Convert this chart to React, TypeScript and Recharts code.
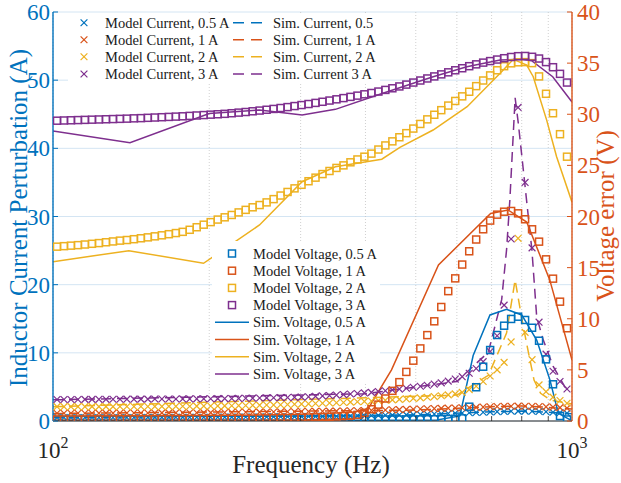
import React from 'react';
import { ComposedChart, XAxis, YAxis, CartesianGrid, Line, Scatter } from 'recharts';

const BLUE = '#0072BD';
const ORANGE = '#D95319';
const YELLOW = '#EDB120';
const PURPLE = '#7E2F8E';
const INK = '#262626';
const FONT = "'Liberation Serif', 'Times New Roman', serif";

// frequency grid of the model markers (Hz)
const FREQ = [101.8, 105.0, 108.3, 111.7, 115.2, 118.9, 122.6, 126.5, 130.5, 134.6,
  138.8, 143.2, 147.7, 152.3, 157.1, 162.1, 167.2, 172.5, 177.8, 183.4,
  189.2, 195.2, 201.3, 207.7, 214.2, 221.0, 227.9, 235.1, 242.5, 250.1,
  258.0, 266.1, 274.5, 283.1, 292.0, 301.2, 310.7, 320.5, 330.6, 341.0,
  351.7, 362.8, 374.2, 386.0, 398.1, 410.7, 423.6, 436.9, 450.7, 464.9,
  479.5, 494.6, 510.2, 526.3, 542.8, 559.9, 577.5, 595.7, 614.4, 633.8,
  653.7, 674.3, 695.5, 717.4, 740.0, 763.3, 787.3, 812.1, 837.6, 864.0,
  891.2, 919.2, 948.2, 978.1];

// Model current (A, left axis)
const MODEL_C_05 = [0.5, 0.5, 0.5, 0.5, 0.5, 0.51, 0.51, 0.51, 0.51, 0.52,
  0.52, 0.52, 0.52, 0.53, 0.53, 0.53, 0.53, 0.54, 0.54, 0.54,
  0.55, 0.55, 0.55, 0.56, 0.56, 0.57, 0.57, 0.58, 0.58, 0.59,
  0.6, 0.61, 0.62, 0.63, 0.64, 0.65, 0.66, 0.67, 0.68, 0.69,
  0.7, 0.72, 0.74, 0.76, 0.78, 0.8, 0.82, 0.84, 0.86, 0.88,
  0.9, 0.93, 0.96, 0.99, 1.02, 1.05, 1.09, 1.13, 1.17, 1.21,
  1.25, 1.29, 1.33, 1.37, 1.4, 1.43, 1.45, 1.45, 1.43, 1.4,
  1.35, 1.29, 1.22, 1.14];
const MODEL_C_1 = [1.13, 1.13, 1.13, 1.14, 1.14, 1.14, 1.15, 1.15, 1.15, 1.16,
  1.16, 1.17, 1.17, 1.18, 1.18, 1.19, 1.19, 1.2, 1.2, 1.21,
  1.21, 1.22, 1.23, 1.24, 1.25, 1.26, 1.27, 1.28, 1.29, 1.3,
  1.31, 1.32, 1.34, 1.35, 1.36, 1.38, 1.39, 1.41, 1.42, 1.44,
  1.45, 1.47, 1.49, 1.51, 1.53, 1.55, 1.58, 1.61, 1.64, 1.67,
  1.7, 1.73, 1.76, 1.79, 1.82, 1.85, 1.88, 1.91, 1.94, 1.97,
  2.0, 2.04, 2.08, 2.12, 2.15, 2.17, 2.18, 2.17, 2.15, 2.12,
  2.08, 2.03, 1.96, 1.88];
const MODEL_C_2 = [2.1, 2.1, 2.1, 2.1, 2.1, 2.11, 2.11, 2.11, 2.11, 2.12,
  2.12, 2.12, 2.13, 2.13, 2.14, 2.14, 2.15, 2.15, 2.16, 2.17,
  2.18, 2.19, 2.2, 2.21, 2.22, 2.24, 2.26, 2.28, 2.3, 2.32,
  2.34, 2.36, 2.39, 2.42, 2.45, 2.48, 2.52, 2.56, 2.6, 2.64,
  2.68, 2.72, 2.77, 2.82, 2.87, 2.92, 2.98, 3.04, 3.1, 3.17,
  3.24, 3.31, 3.39, 3.48, 3.58, 3.7, 3.83, 3.98, 4.2, 4.6,
  5.1, 5.8, 6.6, 7.5, 8.6, 11.6, 26.8, 13.0, 9.0, 5.3,
  4.3, 3.5, 3.0, 2.6];
const MODEL_C_3 = [3.15, 3.15, 3.16, 3.16, 3.17, 3.17, 3.18, 3.18, 3.19, 3.19,
  3.2, 3.2, 3.21, 3.21, 3.22, 3.22, 3.23, 3.23, 3.24, 3.24,
  3.25, 3.26, 3.27, 3.28, 3.29, 3.3, 3.31, 3.33, 3.35, 3.37,
  3.39, 3.41, 3.43, 3.45, 3.47, 3.5, 3.56, 3.62, 3.68, 3.74,
  3.8, 3.88, 3.96, 4.04, 4.12, 4.2, 4.32, 4.44, 4.56, 4.68,
  4.8, 4.95, 5.1, 5.25, 5.42, 5.6, 5.85, 6.15, 6.5, 7.0,
  7.7, 8.7, 10.2, 12.5, 17.0, 26.7, 46.0, 35.0, 25.4, 14.5,
  9.8, 7.3, 5.8, 4.7];

// Model voltage (V, right axis)
const MODEL_V_05 = [0.12, 0.12, 0.12, 0.12, 0.12, 0.12, 0.12, 0.12, 0.12, 0.12,
  0.12, 0.12, 0.12, 0.12, 0.12, 0.12, 0.12, 0.12, 0.12, 0.12,
  0.12, 0.12, 0.12, 0.12, 0.12, 0.12, 0.12, 0.12, 0.12, 0.12,
  0.13, 0.13, 0.13, 0.13, 0.13, 0.13, 0.13, 0.13, 0.13, 0.13,
  0.14, 0.14, 0.14, 0.14, 0.14, 0.15, 0.15, 0.15, 0.15, 0.15,
  0.16, 0.16, 0.16, 0.17, 0.17, 0.18, 0.19, 0.21, 0.26, 1.4,
  3.3, 5.31, 6.94, 8.41, 9.32, 9.98, 10.2, 9.88, 9.12, 7.85,
  6.03, 3.59, 0.49, 0.15];
const MODEL_V_1 = [0.15, 0.15, 0.15, 0.15, 0.15, 0.16, 0.16, 0.16, 0.16, 0.17,
  0.17, 0.17, 0.17, 0.18, 0.18, 0.18, 0.19, 0.19, 0.19, 0.2,
  0.2, 0.2, 0.21, 0.21, 0.22, 0.22, 0.23, 0.23, 0.24, 0.25,
  0.26, 0.27, 0.28, 0.29, 0.3, 0.32, 0.34, 0.36, 0.38, 0.41,
  0.44, 0.48, 0.52, 0.6, 0.8, 1.15, 1.6, 2.2, 2.95, 3.8,
  4.8, 5.9, 7.1, 8.4, 9.75, 11.15, 12.7, 13.95, 15.3, 16.6,
  17.75, 18.75, 19.6, 20.18, 20.47, 20.54, 20.31, 19.73, 18.75, 17.54,
  15.81, 13.92, 11.67, 9.07];
const MODEL_V_2 = [17.05, 17.1, 17.15, 17.2, 17.26, 17.33, 17.4, 17.48, 17.56, 17.64,
  17.7, 17.78, 17.87, 17.96, 18.06, 18.16, 18.27, 18.38, 18.5, 18.7,
  18.95, 19.2, 19.45, 19.7, 19.92, 20.15, 20.4, 20.65, 20.9, 21.12,
  21.38, 21.7, 22.05, 22.4, 22.75, 23.1, 23.45, 23.8, 24.15, 24.45,
  24.75, 25.0, 25.3, 25.58, 25.85, 26.15, 26.55, 26.95, 27.35, 27.75,
  28.15, 28.6, 29.05, 29.5, 29.95, 30.4, 30.85, 31.3, 31.75, 32.2,
  32.75, 33.3, 33.8, 34.3, 34.7, 34.98, 35.08, 35.1, 35.0, 33.7,
  32.0, 30.1, 28.05, 25.85];
const MODEL_V_3 = [29.37, 29.39, 29.41, 29.43, 29.45, 29.47, 29.49, 29.51, 29.53, 29.55,
  29.57, 29.6, 29.62, 29.65, 29.68, 29.71, 29.74, 29.77, 29.8, 29.84,
  29.88, 29.92, 29.96, 30.0, 30.04, 30.1, 30.16, 30.22, 30.29, 30.36,
  30.44, 30.52, 30.61, 30.7, 30.8, 30.9, 31.0, 31.11, 31.22, 31.34,
  31.46, 31.58, 31.7, 31.82, 31.95, 32.08, 32.22, 32.38, 32.54, 32.72,
  32.9, 33.1, 33.3, 33.5, 33.7, 33.9, 34.1, 34.3, 34.5, 34.7,
  34.88, 35.05, 35.2, 35.35, 35.48, 35.6, 35.68, 35.7, 35.62, 35.45,
  35.1, 34.6, 33.95, 33.1];

// Simulated current (A, left axis): [frequency, value]
const SIM_C_05 = [[100, 0.5], [500, 0.9], [700, 1.35], [800, 1.45], [900, 1.3], [1000, 1.05]];
const SIM_C_1 = [[100, 1.1], [500, 1.6], [700, 2.1], [800, 2.2], [900, 2.0], [1000, 1.75]];
const SIM_C_2 = [[100, 2.1], [600, 3.8], [690, 6.7], [748, 12.9], [777, 20.7], [800, 15.1],
  [820, 10.9], [845, 6.0], [870, 4.06], [908, 3.08], [1000, 2.5]];
const SIM_C_3 = [[100, 3.1], [400, 4.0], [600, 5.8], [690, 10.1], [732, 17.8], [748, 25.1],
  [759, 32.4], [777, 47.4], [788, 43.7], [837, 25.1], [855, 15.3], [880, 11.9],
  [920, 8.0], [969, 5.0], [1000, 4.3]];

// Simulated voltage (V, right axis): [frequency, value]
const SIM_V_05 = [[100, 0.02], [549, 0.1], [608, 0.5], [645, 6.4], [695, 10.37], [748, 10.92],
  [800, 10.37], [855, 7.92], [907, 4.0], [941, 0.75], [1000, 0.02]];
const SIM_V_1 = [[100, 0.1], [300, 0.1], [395, 0.3], [449, 5.0], [553, 15.26], [697, 20.3],
  [753, 20.64], [818, 19.46], [906, 13.8], [1000, 5.97]];
const SIM_V_2 = [[100, 15.58], [140, 16.66], [195, 15.42], [250, 19.17], [302, 23.4], [350, 24.87],
  [430, 25.6], [466, 26.77], [540, 28.46], [628, 30.74], [727, 34.0], [771, 35.37],
  [818, 34.8], [842, 33.67], [894, 29.4], [934, 25.85], [1000, 21.4]];
const SIM_V_3 = [[100, 28.36], [140.7, 27.22], [200, 30.07], [250, 30.42], [302, 29.93], [350, 30.48],
  [432, 32.05], [540, 33.67], [627, 34.65], [727, 35.31], [794, 35.37], [836, 35.24],
  [918, 33.67], [1000, 31.2]];

const X_TICKS = [100, 200, 300, 400, 500, 600, 700, 800, 900, 1000];
const LEFT_TICKS = [0, 10, 20, 30, 40, 50, 60];
const RIGHT_TICKS = [0, 5, 10, 15, 20, 25, 30, 35, 40];

const LEGEND_CURRENT_MODEL = ['Model Current, 0.5 A', 'Model Current, 1 A', 'Model Current, 2 A', 'Model Current, 3 A'];
const LEGEND_CURRENT_SIM = ['Sim. Current, 0.5', 'Sim. Current, 1 A', 'Sim. Current, 2 A', 'Sim. Current  3 A'];
const LEGEND_VOLTAGE_MODEL = ['Model Voltage, 0.5 A', 'Model Voltage, 1 A', 'Model Voltage, 2 A', 'Model Voltage, 3 A'];
const LEGEND_VOLTAGE_SIM = ['Sim. Voltage, 0.5 A', 'Sim. Voltage, 1 A', 'Sim. Voltage, 2 A', 'Sim. Voltage, 3 A'];
const COLORS = [BLUE, ORANGE, YELLOW, PURPLE];

const zip = (vals: number[]) => FREQ.map((f, i) => ({ f, v: vals[i] }));
const pairs = (arr: number[][]) => arr.map(([f, v]) => ({ f, v }));

const squareShape = (color: string) => (props: any) => {
  const { cx, cy } = props;
  if (cx == null || cy == null) return <g />;
  return <rect x={cx - 3.5} y={cy - 3.5} width={7} height={7} fill="none" stroke={color} strokeWidth={1.5} />;
};
const crossShape = (color: string) => (props: any) => {
  const { cx, cy } = props;
  if (cx == null || cy == null) return <g />;
  const s = 3.4;
  return (
    <path d={`M${cx - s},${cy - s}L${cx + s},${cy + s}M${cx - s},${cy + s}L${cx + s},${cy - s}`}
      stroke={color} strokeWidth={1.2} fill="none" />
  );
};

const XTick = (props: any) => {
  const { x, y, payload } = props;
  const v = payload.value;
  const exp = v === 100 ? '2' : v === 1000 ? '3' : null;
  return (
    <g>
      {exp === null && <line x1={x} x2={x} y1={y} y2={y - 5} stroke={INK} strokeWidth={0.8} />}
      {exp !== null && (
        <text x={x} y={y + 37} textAnchor="middle" fontFamily={FONT} fontSize={23} fill={INK}>
          10<tspan dy={-10} fontSize={16}>{exp}</tspan>
        </text>
      )}
    </g>
  );
};
const LeftTick = (props: any) => {
  const { x, y, payload } = props;
  return (
    <g>
      <line x1={x} x2={x + 5} y1={y} y2={y} stroke={BLUE} strokeWidth={1} />
      <text x={x - 3} y={y + 8} textAnchor="end" fontFamily={FONT} fontSize={23} fill={BLUE}>{payload.value}</text>
    </g>
  );
};
const RightTick = (props: any) => {
  const { x, y, payload } = props;
  return (
    <g>
      <line x1={x} x2={x - 5} y1={y} y2={y} stroke={ORANGE} strokeWidth={1} />
      <text x={x + 5} y={y + 8} textAnchor="start" fontFamily={FONT} fontSize={23} fill={ORANGE}>{payload.value}</text>
    </g>
  );
};

const modelC = [MODEL_C_05, MODEL_C_1, MODEL_C_2, MODEL_C_3];
const simC = [SIM_C_05, SIM_C_1, SIM_C_2, SIM_C_3];
const modelV = [MODEL_V_05, MODEL_V_1, MODEL_V_2, MODEL_V_3];
const simV = [SIM_V_05, SIM_V_1, SIM_V_2, SIM_V_3];

export default function App() {
  const rows1 = [22.7, 39.7, 56.7, 74];
  const rows2 = [253.5, 270.7, 287.9, 305.1, 322.3, 339.5, 356.7, 373.9];
  const LF = 14.5;
  return (
    <div style={{ position: 'absolute', left: 0, top: 0, width: 621, height: 483, background: '#fff' }}>
      <ComposedChart width={621} height={483} margin={{ top: 12, right: 0, bottom: 0, left: 0 }}>
        <CartesianGrid yAxisId="left" vertical={false} stroke="#d4e5f3" strokeWidth={1} />
        <CartesianGrid yAxisId="left" horizontal={false} stroke="#c4c4c4" strokeWidth={0.8} strokeDasharray="1 2" />
        <XAxis dataKey="f" type="number" scale="log" domain={[100, 1000]} allowDataOverflow
          ticks={X_TICKS} interval={0} height={62} tickSize={0} tickMargin={0} tickLine={false}
          tick={<XTick />} axisLine={{ stroke: INK, strokeWidth: 1 }} />
        <YAxis yAxisId="left" orientation="left" domain={[0, 60]} ticks={LEFT_TICKS} interval={0}
          width={53} tickSize={0} tickMargin={0} tickLine={false} tick={<LeftTick />}
          axisLine={{ stroke: BLUE, strokeWidth: 1.4 }} allowDataOverflow />
        <YAxis yAxisId="right" orientation="right" domain={[0, 40]} ticks={RIGHT_TICKS} interval={0}
          width={49} tickSize={0} tickMargin={0} tickLine={false} tick={<RightTick />}
          axisLine={{ stroke: ORANGE, strokeWidth: 1.4 }} allowDataOverflow />

        {modelC.map((vals, i) => (
          <Scatter key={'mc' + i} data={zip(vals)} dataKey="v" yAxisId="left" shape={crossShape(COLORS[i])}
            isAnimationActive={false} />
        ))}
        {simC.map((arr, i) => (
          <Line key={'sc' + i} data={pairs(arr)} dataKey="v" yAxisId="left" type="linear" stroke={COLORS[i]}
            strokeWidth={1.5} strokeDasharray="10 6" dot={false} activeDot={false} isAnimationActive={false} />
        ))}
        {modelV.map((vals, i) => (
          <Scatter key={'mv' + i} data={zip(vals)} dataKey="v" yAxisId="right" shape={squareShape(COLORS[i])}
            isAnimationActive={false} />
        ))}
        {simV.map((arr, i) => (
          <Line key={'sv' + i} data={pairs(arr)} dataKey="v" yAxisId="right" type="linear" stroke={COLORS[i]}
            strokeWidth={1.5} dot={false} activeDot={false} isAnimationActive={false} />
        ))}
      </ComposedChart>

      <svg width={621} height={483} style={{ position: 'absolute', left: 0, top: 0, pointerEvents: 'none' }}>
        <text transform="translate(27,218) rotate(-90)" textAnchor="middle" fontFamily={FONT} fontSize={25} fill={BLUE}>
          Inductor Current Perturbation (A)
        </text>
        <text transform="translate(614,216) rotate(-90)" textAnchor="middle" fontFamily={FONT} fontSize={25} fill={ORANGE}>
          Voltage error (V)
        </text>
        <text x={311} y={473} textAnchor="middle" fontFamily={FONT} fontSize={25} fill={INK}>Frequency (Hz)</text>

        <rect x={68} y={13} width={312} height={70} fill="#fff" />
        {rows1.map((ry, i) => (
          <g key={'l1' + i}>
            <path d={`M${84 - 3.4},${ry - 3.4}L${84 + 3.4},${ry + 3.4}M${84 - 3.4},${ry + 3.4}L${84 + 3.4},${ry - 3.4}`}
              stroke={COLORS[i]} strokeWidth={1.2} />
            <text x={105} y={ry + 5} fontFamily={FONT} fontSize={LF} fill="#1a1a1a">{LEGEND_CURRENT_MODEL[i]}</text>
            <line x1={233} x2={263} y1={ry} y2={ry} stroke={COLORS[i]} strokeWidth={1.5} strokeDasharray="11 7" />
            <text x={273} y={ry + 5} fontFamily={FONT} fontSize={LF} fill="#1a1a1a">{LEGEND_CURRENT_SIM[i]}</text>
          </g>
        ))}

        <rect x={212} y={241} width={168} height={142} fill="#fff" />
        {rows2.map((ry, i) => (
          <g key={'l2' + i}>
            {i < 4 ? (
              <rect x={232 - 3.5} y={ry - 3.5} width={7} height={7} fill="none" stroke={COLORS[i]} strokeWidth={1.5} />
            ) : (
              <line x1={215} x2={249} y1={ry} y2={ry} stroke={COLORS[i - 4]} strokeWidth={1.5} />
            )}
            <text x={253} y={ry + 5} fontFamily={FONT} fontSize={LF} fill="#1a1a1a">
              {i < 4 ? LEGEND_VOLTAGE_MODEL[i] : LEGEND_VOLTAGE_SIM[i - 4]}
            </text>
          </g>
        ))}
      </svg>
    </div>
  );
}
